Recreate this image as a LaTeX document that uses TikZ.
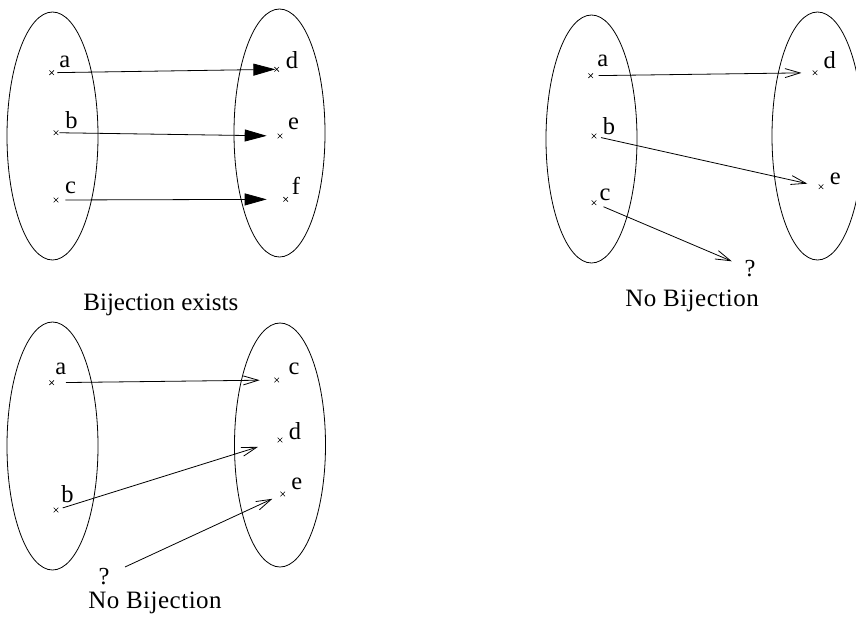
\documentclass[tikz,border=0pt]{standalone}
\usepackage{fontspec}
\setmainfont{Liberation Serif}
\usetikzlibrary{arrows.meta,shapes.geometric,shapes.misc}
\begin{document}
\begin{tikzpicture}[x=1pt,y=-1pt,
  setshape/.style={ellipse,draw,line width=0.8pt,minimum width=91pt,minimum height=248pt,inner sep=0pt},
  elem/.style={cross out,draw,line width=0.6pt,minimum size=4pt,inner sep=0pt},
  lbl/.style={font=\fontsize{24.5}{24.5}\selectfont,inner sep=0pt},
  captext/.style={font=\fontsize{25}{25}\selectfont,inner sep=0pt,anchor=base},
  fillarrow/.style={-{Triangle[length=22pt,width=12pt]},line width=0.8pt},
  openarrow/.style={-{Straight Barb[length=15pt,width=9pt]},line width=0.8pt}]
\useasboundingbox (0,0) rectangle (856,619);
\clip (0,0) rectangle (856,619);

% ---------------- top left ----------------
\node[setshape] (tlA) at (52.5,136) {};
\node[setshape] (tlB) at (279.5,133) {};
\node[elem] (tla) at (51.7,72.7) {};
\node[elem] (tlb) at (56,132.7) {};
\node[elem] (tlc) at (56,200) {};
\node[elem] (tld) at (276.7,69.3) {};
\node[elem] (tle) at (280,136) {};
\node[elem] (tlf) at (285.7,199.3) {};
\node[lbl] (tlla) at (64.7,61.7) {a};
\node[lbl] (tllb) at (71.5,120.5) {b};
\node[lbl] (tllc) at (70.5,187.5) {c};
\node[lbl] (tlld) at (292,60) {d};
\node[lbl] (tlle) at (293.5,124) {e};
\node[lbl] (tllf) at (296,186) {f};
\draw[fillarrow,shorten <=3.3pt,shorten >=-1pt] (tla) -- (tld);
\draw[fillarrow,shorten <=1pt,shorten >=11pt] (tlb) -- (tle);
\draw[fillarrow,shorten <=7pt,shorten >=16.7pt] (tlc) -- (tlf);
\node[captext] (tlcap) at (160.8,310) {Bijection exists};

% ---------------- top right ----------------
\node[setshape] (trA) at (591.5,139) {};
\node[setshape] (trB) at (817.5,136) {};
\node[elem] (tra) at (590.7,75.7) {};
\node[elem] (trb) at (594,136) {};
\node[elem] (trc) at (594,202.7) {};
\node[elem] (trd) at (815,72.7) {};
\node[elem] (tre) at (821,186.7) {};
\node[lbl] (trla) at (602.8,61.2) {a};
\node[lbl] (trlb) at (609,126.3) {b};
\node[lbl] (trlc) at (605,194.5) {c};
\node[lbl] (trld) at (829.8,60) {d};
\node[lbl] (trle) at (835.3,179.2) {e};
\node[lbl] (trq) at (750,269) {?};
\draw[openarrow,shorten <=5.6pt,shorten >=11.3pt] (tra) -- (trd);
\draw[openarrow,shorten <=4.8pt,shorten >=11.7pt] (trb) -- (tre);
\draw[openarrow,shorten <=7.9pt,shorten >=13.7pt] (trc) -- (trq);
\node[captext] (trcap) at (692,306) {\addfontfeatures{LetterSpace=2}No Bijection};

% ---------------- bottom left ----------------
\node[setshape] (blA) at (52.5,446) {};
\node[setshape,minimum height=244pt] (blB) at (280,445) {};
\node[elem] (bla) at (51.7,382.7) {};
\node[elem] (blb) at (56,510) {};
\node[elem] (blc) at (276.7,380) {};
\node[elem] (bld) at (280,440) {};
\node[elem] (ble) at (282.7,494) {};
\node[lbl] (blla) at (60.8,368.8) {a};
\node[lbl] (bllb) at (67.5,494) {b};
\node[lbl] (bllc) at (294,368.8) {c};
\node[lbl] (blld) at (295,430.8) {d};
\node[lbl] (blle) at (296.7,484) {e};
\node[lbl] (blq) at (104,576.7) {?};
\draw[openarrow,shorten <=12pt,shorten >=14.7pt] (bla) -- (blc);
\draw[openarrow,shorten <=4.7pt,shorten >=20.7pt] (blb) -- (bld);
\draw[openarrow,shorten <=17pt,shorten >=8.8pt] (blq) -- (ble);
\node[captext] (blcap) at (155,608) {\addfontfeatures{LetterSpace=2}No Bijection};
\end{tikzpicture}
\end{document}
